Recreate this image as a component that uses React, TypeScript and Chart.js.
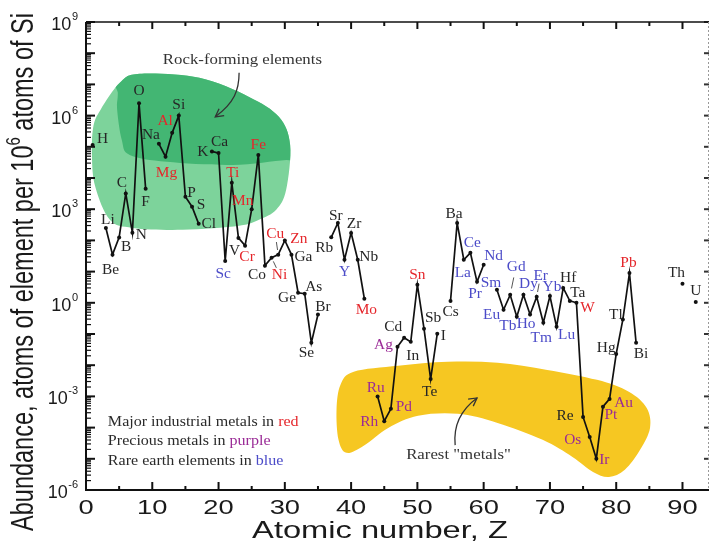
import React, { useEffect, useRef } from 'react';
import { Chart, registerables } from 'chart.js';
Chart.register(...registerables);

// ---------- data ----------
const atomicNumbers = [1, 3, 4, 5, 6, 7, 8, 9, 11, 12, 13, 14, 15, 16, 17, 19, 20, 21, 22, 23, 24, 25, 26, 27, 28, 29, 30, 31, 32, 33, 34, 35, 37, 38, 39, 40, 41, 42, 44, 45, 46, 47, 48, 49, 50, 51, 52, 53, 55, 56, 57, 58, 59, 60, 62, 63, 64, 65, 66, 67, 68, 69, 70, 71, 72, 73, 74, 75, 76, 77, 78, 79, 80, 81, 82, 83, 90, 92];
const symbols = ['H', 'Li', 'Be', 'B', 'C', 'N', 'O', 'F', 'Na', 'Mg', 'Al', 'Si', 'P', 'S', 'Cl', 'K', 'Ca', 'Sc', 'Ti', 'V', 'Cr', 'Mn', 'Fe', 'Co', 'Ni', 'Cu', 'Zn', 'Ga', 'Ge', 'As', 'Se', 'Br', 'Rb', 'Sr', 'Y', 'Zr', 'Nb', 'Mo', 'Ru', 'Rh', 'Pd', 'Ag', 'Cd', 'In', 'Sn', 'Sb', 'Te', 'I', 'Cs', 'Ba', 'La', 'Ce', 'Pr', 'Nd', 'Sm', 'Eu', 'Gd', 'Tb', 'Dy', 'Ho', 'Er', 'Tm', 'Yb', 'Lu', 'Hf', 'Ta', 'W', 'Re', 'Os', 'Ir', 'Pt', 'Au', 'Hg', 'Tl', 'Pb', 'Bi', 'Th', 'U'];
const abundance = [1.15e5, 250, 35, 125, 3.2e3, 175, 2.5e6, 4.5e3, 1.25e5, 4.8e4, 2.8e5, 1e6, 2.5e3, 1.2e3, 340, 7.1e4, 6.3e4, 22, 7.1e3, 120, 68, 1e3, 5.5e4, 15.5, 28, 35, 100, 35, 2.1, 1.95, 0.052, 0.42, 126, 363, 24, 174, 24, 1.35, 1e-3, 1.6e-4, 4e-4, 0.039, 0.076, 0.056, 3.8, 0.148, 3.6e-3, 0.102, 1.15, 363, 24, 40, 4.7, 16.6, 2.6, 0.6, 1.8, 0.355, 1.8, 0.42, 1.55, 0.23, 1.65, 0.17, 3.0, 1.15, 1.0, 2.2e-4, 5e-5, 1e-5, 4.7e-4, 8.3e-4, 0.023, 0.29, 9.1, 0.052, 4.1, 1.07];

const industrialMetals = ['Mg', 'Al', 'Ti', 'Cr', 'Mn', 'Fe', 'Ni', 'Cu', 'Zn', 'Mo', 'Sn', 'W', 'Pb'];
const preciousMetals = ['Ru', 'Rh', 'Pd', 'Ag', 'Os', 'Ir', 'Pt', 'Au'];
const rareEarths = ['Sc', 'Y', 'La', 'Ce', 'Pr', 'Nd', 'Sm', 'Eu', 'Gd', 'Tb', 'Dy', 'Ho', 'Er', 'Tm', 'Yb', 'Lu'];

const xTickLabels = ['0', '10', '20', '30', '40', '50', '60', '70', '80', '90'];
const yTickExponents = ['-6', '-3', '0', '3', '6', '9'];

// ---------- label placement (pixels, relative to each point) ----------
const labelOffsets: [number, number][] = [
  [10, -7], [2, -9], [-2, 15], [7, 9], [-4, -11], [9, 2], [0, -13], [0, 13], [-8, -9], [1, 16], [-7, -13], [0, -11], [6, -4], [9, -2], [10, 0],
  [-9, 0], [1, -12], [-2, 12], [1, -10], [-4, 12], [2, 11], [-9, -9], [0, -11], [-8, 9], [8, 17], [-3, -21], [14, -2], [12, 2], [-11, 5], [9, -7], [-5, 9], [5, -8],
  [-7, 10], [-2, -8], [0, 12], [3, -10], [11, -3], [2, 11],
  [-2, -9], [-15, 0], [13, -2], [-14, -2], [-11, -11], [2, 13], [0, -10], [9, -11], [-1, 12], [6, 2],
  [0, 10], [-3, -10], [-1, 13], [2, -10], [-2, 11], [10, -9],
  [-6, -8], [-12, 5], [6, -29], [-9, 8], [5, -12], [-4, 9], [4, -22], [-2, 15], [2, -10], [10, 8], [5, -11], [8, -9], [11, 5], [-18, -2], [-17, 2], [8, 1], [8, 8], [14, 3], [-10, -7], [-7, -5], [-1, -11], [5, 10],
  [-6, -11], [0, -12],
];
const pointerLabels = ['Ni', 'Cu', 'Gd', 'Er'];

// ---------- annotation shapes in data coordinates [Z, log10(abundance)] ----------
const rockBlobOuter: [number, number][] = [
  [2.2, 6.19], [5.1, 7.05], [8.1, 7.34], [17.1, 7.21], [24.6, 6.6], [29.1, 5.96], [30.8, 5.06], [30.2, 3.62], [28.7, 2.98],
  [26.1, 2.66], [23.1, 2.47], [14.6, 2.34], [7.1, 2.4], [3.6, 2.66], [1.4, 3.72], [0.9, 4.68], [1.1, 5.64],
];
const rockBlobInner: [number, number][] = [
  [4.7, 7.9], [33, 7.9], [33, 4.58], [30.2, 4.58], [22.1, 4.42], [12.2, 4.52], [6.6, 4.74], [5.4, 5.22], [4.7, 6.19], [4.8, 6.73],
];
const rareBlob: [number, number][] = [
  [37.8, -3.43], [38.4, -2.63], [40.4, -2.21], [47.1, -2.02], [54.6, -1.89], [62.1, -1.92], [69.6, -2.15], [77.1, -2.47], [81.9, -2.85],
  [84.6, -3.37], [85.1, -4.01], [83.6, -4.71], [81.3, -5.35], [78.9, -5.58], [76.5, -5.42], [73.4, -4.94], [68.9, -4.39], [62.1, -3.85],
  [56.1, -3.56], [50.1, -3.62], [45.6, -4.01], [41.9, -4.58], [39.3, -4.81], [38.1, -4.39],
];
const rockArrow: [number, number][] = [[23.1, 7.37], [23.1, 6.82], [22.4, 6.41], [19.5, 5.96]];
const rareArrow: [number, number][] = [[55.7, -4.56], [55.4, -3.92], [56.5, -3.44], [59.0, -3.05]];
const rockText = { text: 'Rock-forming elements', at: [23.6, 7.78] as [number, number] };
const rareText = { text: 'Rarest "metals"', at: [56.2, -4.88] as [number, number] };
const legendAt: [number, number] = [3.3, -3.82];
const legendLines = [
  ['Major industrial metals in ', 'red'],
  ['Precious metals in ', 'purple'],
  ['Rare earth elements in ', 'blue'],
];

const BLACK = '#262626';
const RED = '#e5262b';
const BLUE = '#4b4bc8';
const PURPLE = '#9a2a96';
const SERIF = '"Liberation Serif", "Times New Roman", serif';
const SANS = '"Liberation Sans", Arial, sans-serif';

function colorFor(sym: string) {
  if (industrialMetals.includes(sym)) return RED;
  if (preciousMetals.includes(sym)) return PURPLE;
  if (rareEarths.includes(sym)) return BLUE;
  return BLACK;
}

function smoothClosed(ctx: CanvasRenderingContext2D, pts: number[][]) {
  const n = pts.length;
  ctx.beginPath();
  ctx.moveTo(pts[0][0], pts[0][1]);
  for (let i = 0; i < n; i++) {
    const p0 = pts[(i - 1 + n) % n], p1 = pts[i], p2 = pts[(i + 1) % n], p3 = pts[(i + 2) % n];
    ctx.bezierCurveTo(
      p1[0] + (p2[0] - p0[0]) / 6, p1[1] + (p2[1] - p0[1]) / 6,
      p2[0] - (p3[0] - p1[0]) / 6, p2[1] - (p3[1] - p1[1]) / 6,
      p2[0], p2[1]);
  }
  ctx.closePath();
}

function stretchedText(ctx: CanvasRenderingContext2D, text: string, x: number, y: number, sx: number) {
  ctx.save();
  ctx.translate(x, y);
  ctx.scale(sx, 1);
  ctx.fillText(text, 0, 0);
  ctx.restore();
}

const decorPlugin = {
  id: 'decor',
  beforeDatasetsDraw(chart: any) {
    const ctx: CanvasRenderingContext2D = chart.ctx;
    const xs = chart.scales.x, ys = chart.scales.y;
    const toPx = (p: [number, number]) => [xs.getPixelForValue(p[0]), ys.getPixelForValue(Math.pow(10, p[1]))];
    const outer = rockBlobOuter.map(toPx);
    const inner = rockBlobInner.map(toPx);
    ctx.save();
    smoothClosed(ctx, outer);
    ctx.fillStyle = '#7dd39b';
    ctx.fill();
    ctx.clip();
    smoothClosed(ctx, inner);
    ctx.fillStyle = '#43b673';
    ctx.fill();
    ctx.restore();

    ctx.save();
    smoothClosed(ctx, rareBlob.map(toPx));
    ctx.fillStyle = '#f6c722';
    ctx.fill();
    ctx.restore();
  },
  afterDatasetsDraw(chart: any) {
    const ctx: CanvasRenderingContext2D = chart.ctx;
    const xs = chart.scales.x, ys = chart.scales.y;
    const area = chart.chartArea;
    const toPx = (p: [number, number]) => [xs.getPixelForValue(p[0]), ys.getPixelForValue(Math.pow(10, p[1]))];

    // element labels
    ctx.save();
    ctx.font = `14px ${SERIF}`;
    ctx.textAlign = 'center';
    ctx.textBaseline = 'middle';
    symbols.forEach((sym, i) => {
      const px = xs.getPixelForValue(atomicNumbers[i]);
      const py = ys.getPixelForValue(abundance[i]);
      const [dx, dy] = labelOffsets[i];
      ctx.fillStyle = colorFor(sym);
      stretchedText(ctx, sym, px + dx, py + dy + 1, 1.1);
      if (pointerLabels.includes(sym)) {
        const lx = px + dx, ly = py + dy;
        ctx.strokeStyle = '#555';
        ctx.lineWidth = 1;
        ctx.beginPath();
        ctx.moveTo(lx + (px - lx) * 0.4, ly + (py - ly) * 0.4);
        ctx.lineTo(lx + (px - lx) * 0.78, ly + (py - ly) * 0.78);
        ctx.stroke();
      }
    });
    ctx.restore();

    // annotation texts and arrows
    ctx.save();
    ctx.fillStyle = '#333';
    ctx.textAlign = 'center';
    ctx.textBaseline = 'middle';
    ctx.font = `15px ${SERIF}`;
    let p = toPx(rockText.at);
    stretchedText(ctx, rockText.text, p[0], p[1], 1.12);
    p = toPx(rareText.at);
    stretchedText(ctx, rareText.text, p[0], p[1], 1.12);
    const drawArrow = (pts: [number, number][]) => {
      const q = pts.map(toPx);
      ctx.strokeStyle = '#333';
      ctx.lineWidth = 1.3;
      ctx.beginPath();
      ctx.moveTo(q[0][0], q[0][1]);
      ctx.bezierCurveTo(q[1][0], q[1][1], q[2][0], q[2][1], q[3][0], q[3][1]);
      ctx.stroke();
      const ang = Math.atan2(q[3][1] - q[2][1], q[3][0] - q[2][0]);
      const L = 9;
      ctx.beginPath();
      ctx.moveTo(q[3][0] - L * Math.cos(ang - 0.5), q[3][1] - L * Math.sin(ang - 0.5));
      ctx.lineTo(q[3][0], q[3][1]);
      ctx.lineTo(q[3][0] - L * Math.cos(ang + 0.5), q[3][1] - L * Math.sin(ang + 0.5));
      ctx.stroke();
    };
    drawArrow(rockArrow);
    drawArrow(rareArrow);

    // legend text
    ctx.textAlign = 'left';
    ctx.font = `15px ${SERIF}`;
    const lp = toPx(legendAt);
    const legendColors = [RED, PURPLE, BLUE];
    legendLines.forEach((ln, i) => {
      const y = lp[1] + i * 19.5;
      ctx.save();
      ctx.translate(lp[0], y);
      ctx.scale(1.07, 1);
      ctx.fillStyle = '#2a2a2a';
      ctx.fillText(ln[0], 0, 0);
      const w = ctx.measureText(ln[0]).width;
      ctx.fillStyle = legendColors[i];
      ctx.fillText(ln[1], w, 0);
      ctx.restore();
    });
    ctx.restore();

    // axes frame
    ctx.save();
    ctx.strokeStyle = '#111';
    ctx.lineCap = 'butt';
    // left axis
    ctx.lineWidth = 2;
    ctx.beginPath();
    ctx.moveTo(area.left, area.top);
    ctx.lineTo(area.left, area.bottom + 1);
    ctx.stroke();
    for (let k = -6; k <= 8; k++) {
      for (let m = 2; m <= 9; m++) {
        const py = ys.getPixelForValue(m * Math.pow(10, k));
        ctx.lineWidth = 1.2;
        ctx.beginPath();
        ctx.moveTo(area.left, py);
        ctx.lineTo(area.left + 5, py);
        ctx.stroke();
      }
    }
    for (let k = -6; k <= 9; k++) {
      const py = ys.getPixelForValue(Math.pow(10, k));
      ctx.lineWidth = 2;
      ctx.beginPath();
      ctx.moveTo(area.left, py);
      ctx.lineTo(area.left + 9, py);
      ctx.stroke();
      // right axis ticks
      ctx.strokeStyle = '#333';
      ctx.beginPath();
      ctx.moveTo(area.right, py);
      ctx.lineTo(area.right - 5, py);
      ctx.stroke();
      ctx.strokeStyle = '#111';
    }
    // bottom axis
    ctx.lineWidth = 2;
    ctx.beginPath();
    ctx.moveTo(area.left - 1, area.bottom);
    ctx.lineTo(area.right, area.bottom);
    ctx.stroke();
    // top axis
    ctx.lineWidth = 1.5;
    ctx.beginPath();
    ctx.moveTo(area.left, area.top);
    ctx.lineTo(area.right, area.top);
    ctx.stroke();
    for (let z = 5; z <= 90; z += 5) {
      const px = xs.getPixelForValue(z);
      const major = z % 10 === 0;
      ctx.lineWidth = 2;
      ctx.beginPath();
      ctx.moveTo(px, area.bottom);
      ctx.lineTo(px, area.bottom - (major ? 8 : 4));
      ctx.stroke();
      ctx.beginPath();
      ctx.moveTo(px, area.top);
      ctx.lineTo(px, area.top + (major ? 7 : 4));
      ctx.stroke();
    }
    // right axis dashed
    ctx.strokeStyle = '#999';
    ctx.lineWidth = 1;
    ctx.setLineDash([2, 2]);
    ctx.beginPath();
    ctx.moveTo(area.right - 0.5, area.top);
    ctx.lineTo(area.right - 0.5, area.bottom);
    ctx.stroke();
    ctx.setLineDash([]);
    ctx.restore();

    // tick labels
    ctx.save();
    ctx.fillStyle = '#1a1a1a';
    ctx.textBaseline = 'middle';
    ctx.textAlign = 'center';
    ctx.font = `21px ${SANS}`;
    xTickLabels.forEach((t) => {
      const px = xs.getPixelForValue(Number(t));
      stretchedText(ctx, t, px, area.bottom + 18, 1.3);
    });
    yTickExponents.forEach((e) => {
      const py = ys.getPixelForValue(Math.pow(10, Number(e)));
      ctx.font = `11px ${SANS}`;
      ctx.textAlign = 'left';
      const ew = ctx.measureText(e).width;
      const right = 78;
      ctx.fillText(e, right - ew, py - 5);
      ctx.font = `18px ${SANS}`;
      ctx.textAlign = 'right';
      ctx.fillText('10', right - ew - 0.5, py + 3);
    });
    // x title
    ctx.font = `24px ${SANS}`;
    ctx.textAlign = 'center';
    stretchedText(ctx, 'Atomic number, Z', 380, 531, 1.36);
    // y title
    ctx.save();
    ctx.translate(24, 272);
    ctx.scale(1.33, 1);
    ctx.rotate(-Math.PI / 2);
    const partA = 'Abundance, atoms of element per 10';
    const partSup = '6';
    const partB = ' atoms of Si';
    ctx.font = `23.5px ${SANS}`;
    const wA = ctx.measureText(partA).width;
    const wB = ctx.measureText(partB).width;
    ctx.font = `15px ${SANS}`;
    const wS = ctx.measureText(partSup).width;
    const total = wA + wS + wB;
    ctx.textAlign = 'left';
    let cx = -total / 2;
    ctx.font = `23.5px ${SANS}`;
    ctx.fillText(partA, cx, 0);
    cx += wA;
    ctx.font = `15px ${SANS}`;
    ctx.fillText(partSup, cx, -7);
    cx += wS;
    ctx.font = `23.5px ${SANS}`;
    ctx.fillText(partB, cx, 0);
    ctx.restore();
    ctx.restore();
  },
};

export default function App() {
  const ref = useRef<HTMLCanvasElement>(null);
  useEffect(() => {
    const byZ = new Map<number, number>();
    atomicNumbers.forEach((z, i) => byZ.set(z, abundance[i]));
    const points: { x: number; y: number | null }[] = [];
    for (let z = 1; z <= 92; z++) {
      points.push({ x: z, y: byZ.has(z) ? (byZ.get(z) as number) : null });
    }
    const chart = new Chart(ref.current as HTMLCanvasElement, {
      type: 'scatter',
      data: {
        datasets: [{
          data: points as any,
          showLine: true,
          spanGaps: false,
          borderColor: '#111',
          borderWidth: 1.7,
          pointRadius: 2,
          pointBackgroundColor: '#111',
          pointBorderWidth: 0,
        }],
      },
      options: {
        animation: false,
        responsive: false,
        devicePixelRatio: 1,
        layout: { padding: { left: 86, top: 22, right: 1, bottom: 59 } },
        scales: {
          x: { type: 'linear', min: 0, max: 94, display: false },
          y: { type: 'logarithmic', min: 1e-6, max: 1e9, display: false },
        },
        plugins: { legend: { display: false }, tooltip: { enabled: false } },
      },
      plugins: [decorPlugin],
    });
    return () => chart.destroy();
  }, []);
  return (
    <div style={{ position: 'absolute', left: 0, top: 0, width: 713, height: 549, background: '#fff' }}>
      <canvas ref={ref} width={713} height={549} style={{ width: 713, height: 549, display: 'block' }} />
    </div>
  );
}
